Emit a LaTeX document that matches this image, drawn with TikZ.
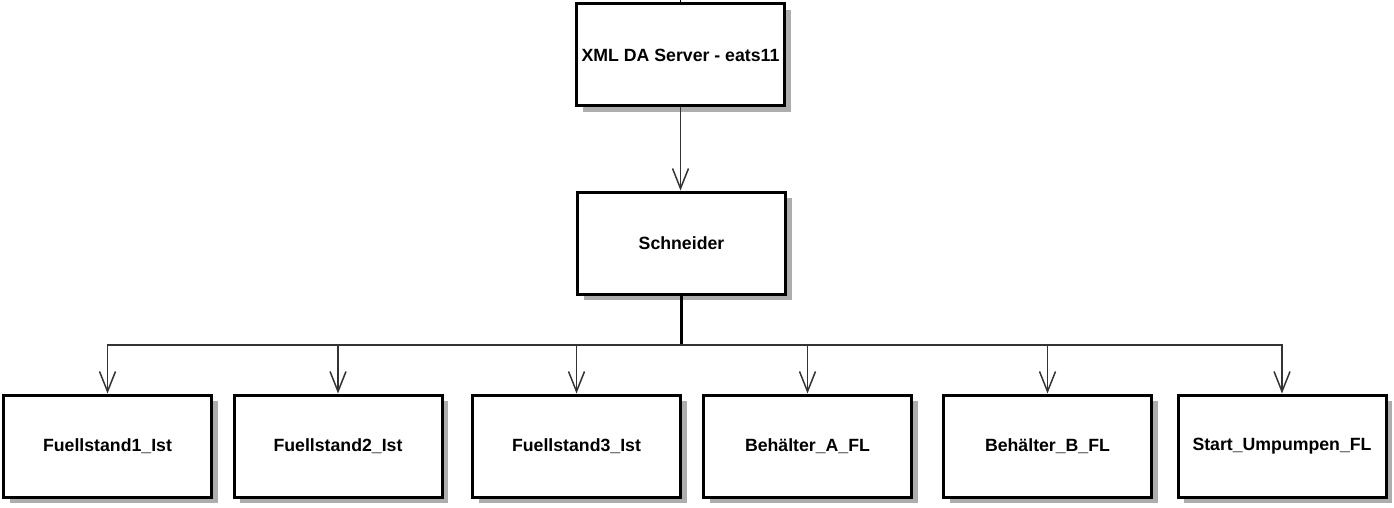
\documentclass[tikz,border=0pt]{standalone}
\usepackage{fontspec}
\setmainfont{Liberation Sans}
\usetikzlibrary{arrows.meta,shadows}
\begin{document}
\begin{tikzpicture}[x=1pt,y=-1pt,
  box/.style={draw=black, line width=3pt, fill=white, minimum width=208pt, minimum height=102pt,
    inner sep=0pt, font=\fontsize{17.7}{20}\selectfont\bfseries,
    drop shadow={shadow xshift=6pt, shadow yshift=-6pt, fill=black!32, opacity=1}},
  conn/.style={draw=black!80, line width=1.5pt, -{Straight Barb[length=20pt,width=16pt,line width=1.5pt]}},
  trunk/.style={draw=black, line width=3pt}]
\useasboundingbox (0,0) rectangle (1394,508);
\node[box] (xml) at (680.5,55) {XML DA Server - eats11};
\node[box] (sch) at (681.5,243) {Schneider};
\node[box] (f1) at (107.5,446) {Fuellstand1\_Ist};
\node[box] (f2) at (338,446) {Fuellstand2\_Ist};
\node[box] (f3) at (576.5,446) {Fuellstand3\_Ist};
\node[box] (ba) at (807.5,446) {Behälter\_A\_FL};
\node[box] (bb) at (1047.5,446) {Behälter\_B\_FL};
\node[box] (su) at (1282,446) {Start\_Umpumpen\_FL};
\coordinate (top) at (680.5,0);
\coordinate (bus) at (681.5,345);
\draw[draw=black, line width=1.5pt] (top) -- (xml.north);
\draw[conn] (xml.south) -- (xml.south |- sch.north);
\draw[trunk] (sch.south) -- (bus);
\foreach \n in {f1,f2,f3,ba,bb,su}{
  \draw[conn] (bus) -| (\n.north);
}
\end{tikzpicture}
\end{document}
